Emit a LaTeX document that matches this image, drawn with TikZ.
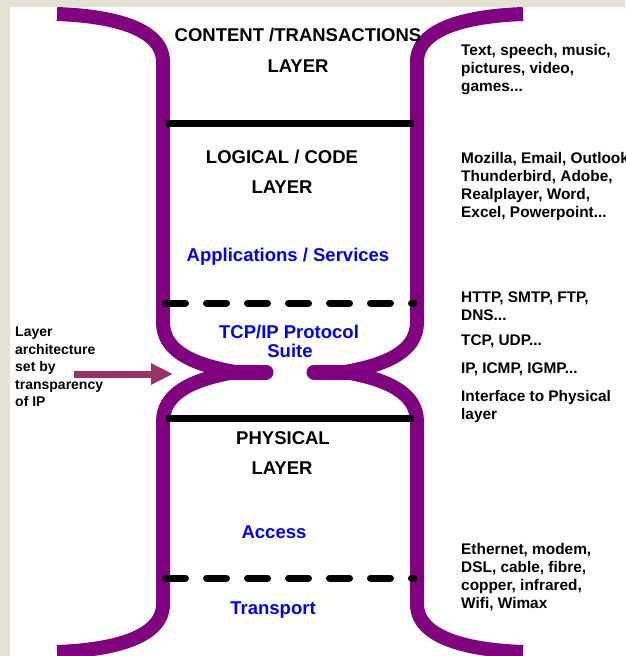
\documentclass[tikz,border=0pt]{standalone}
\usepackage{fontspec}
\setmainfont{Liberation Sans}
\usetikzlibrary{arrows.meta}
\definecolor{pipepurple}{RGB}{128,0,128}
\definecolor{ipmaroon}{RGB}{153,51,102}
\definecolor{slidebeige}{RGB}{229,226,212}
\definecolor{protoblue}{RGB}{0,0,255}

\begin{document}
\begin{tikzpicture}[x=1pt, y=-1pt,
    pipe/.style={line width=14pt, pipepurple},
    stub/.style={line width=15pt, pipepurple, line cap=round},
    layerrule/.style={line width=7pt, black},
    softrule/.style={line width=7pt, black, line cap=round, dash pattern=on 20pt off 21pt},
    headtxt/.style={font=\bfseries\fontsize{18.5}{22}\selectfont, inner sep=0pt, anchor=base},
    bluetxt/.style={headtxt, text=protoblue},
    sidetxt/.style={font=\bfseries\fontsize{15.4}{18}\selectfont, inner sep=0pt, anchor=north west, align=left},
    notetxt/.style={font=\bfseries\fontsize{14}{17.5}\selectfont, inner sep=0pt, anchor=north west, align=left}]
    % slide frame
    \useasboundingbox (0,0) rectangle (625,656);
    \fill[slidebeige] (0,0) rectangle (625,656);
    \fill[white] (10,7) rectangle (625,656);
    \clip (0,0) rectangle (625,656);

    % hourglass, left half
    \draw[pipe] (57,14) .. controls (112,16) and (163,28) .. (163,62) -- (163,322)
        .. controls (163,350) and (190,364) .. (235,372);
    \draw[pipe] (235,372) .. controls (190,380) and (163,394) .. (163,422) -- (163,604)
        .. controls (163,638) and (112,650) .. (57,652);
    \draw[stub] (215,372) -- (266,372);

    % hourglass, right half
    \draw[pipe] (523,14) .. controls (468,16) and (417,28) .. (417,62) -- (417,322)
        .. controls (417,350) and (390,364) .. (345,372);
    \draw[pipe] (345,372) .. controls (390,380) and (417,394) .. (417,422) -- (417,604)
        .. controls (417,638) and (468,650) .. (523,652);
    \draw[stub] (365,372) -- (314,372);

    % layer borders
    \draw[layerrule] (166,123) -- (414,123);
    \draw[softrule] (165.5,303) -- (414,303);
    \draw[layerrule] (166,418) -- (414,418);
    \draw[softrule] (165.5,578) -- (414,578);

    % layer names
    \node[headtxt] (content) at (298,41) {CONTENT /TRANSACTIONS};
    \node[headtxt] (contentlayer) at (298,72) {LAYER};
    \node[headtxt] (logical) at (282,163) {LOGICAL / CODE};
    \node[headtxt] (logicallayer) at (282,193) {LAYER};
    \node[bluetxt] (apps) at (288,261) {Applications / Services};
    \node[bluetxt] (tcpip) at (289,338) {TCP/IP Protocol};
    \node[bluetxt] (suite) at (290,357) {Suite};
    \node[headtxt] (physical) at (283,444) {PHYSICAL};
    \node[headtxt] (physicallayer) at (282,474) {LAYER};
    \node[bluetxt] (access) at (274,538) {Access};
    \node[bluetxt] (transport) at (273,614) {Transport};

    % examples on the right
    \node[sidetxt] (media) at (461,44) {Text, speech, music,\\pictures, video,\\games...};
    \node[sidetxt] (progs) at (461,152) {Mozilla, Email, Outlook\\Thunderbird, Adobe,\\Realplayer, Word,\\Excel, Powerpoint...};
    \node[sidetxt] (appproto) at (461,292) {HTTP, SMTP, FTP,\\DNS...};
    \node[sidetxt] (transproto) at (461,335) {TCP, UDP...};
    \node[sidetxt] (netproto) at (461,363) {IP, ICMP, IGMP...};
    \node[sidetxt] (iface) at (461,390) {Interface to Physical\\layer};
    \node[sidetxt] (links) at (461,543) {Ethernet, modem,\\DSL, cable, fibre,\\copper, infrared,\\Wifi, Wimax};

    % note and arrow into the waist
    \node[notetxt] (ipnote) at (15,327) {Layer\\architecture\\set by\\transparency\\of IP};
    \coordinate (arrowtail) at (74,374);
    \coordinate (waist) at (173,374);
    \draw[ipmaroon, line width=7pt, -{Triangle[length=22pt,width=20pt]}] (arrowtail) -- (waist);
\end{tikzpicture}
\end{document}
